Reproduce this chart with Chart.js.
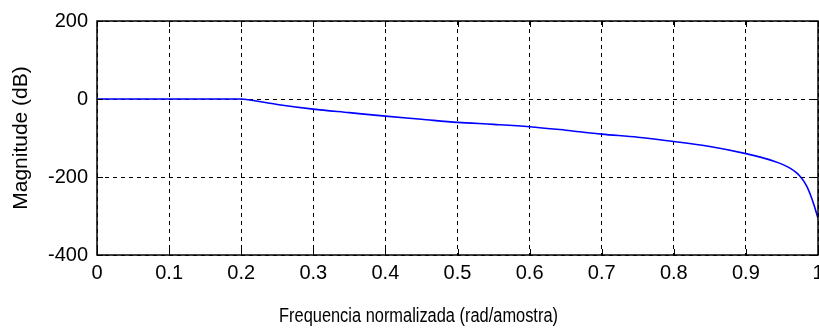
<!DOCTYPE html>
<html lang="pt">
<head>
<meta charset="UTF-8">
<title>Magnitude</title>
<script src="https://cdn.jsdelivr.net/npm/chart.js"></script>
<style>
    html, body { margin: 0; padding: 0; background: #fff; overflow: hidden; }
    #wrap { width: 819px; height: 329px; }
</style>
</head>
<body>
<div id="wrap"><canvas id="chart"></canvas></div>
<script>
    // frequency (normalized) and magnitude in dB
    const freq = [0, 0.05, 0.1, 0.15, 0.2, 0.21, 0.25, 0.3, 0.35, 0.4, 0.45, 0.5, 0.55, 0.6, 0.65,
        0.7, 0.75, 0.8, 0.85, 0.9, 0.92, 0.94, 0.95, 0.96, 0.97, 0.975, 0.98, 0.985, 0.99, 0.995, 1.0];
    const magDb = [0, 0, 0, 0, 0, -2, -14, -26, -35, -44, -52, -60, -65, -71, -80,
        -90, -98, -109, -122, -140, -149, -160, -167, -176, -189, -198, -210, -226, -248, -275, -306];
    const xTicks = [0, 0.1, 0.2, 0.3, 0.4, 0.5, 0.6, 0.7, 0.8, 0.9, 1];
    const yTicks = [-400, -200, 0, 200];
    const xTitle = 'Frequencia normalizada (rad/amostra)';

    const FONT = "'Liberation Sans', Arial, sans-serif";

    // box around the plot, small inward tick marks, and the narrow x title
    const boxPlugin = {
        id: 'box',
        afterDatasetsDraw(chart) {
            const { ctx, chartArea: a, scales } = chart;
            ctx.save();
            ctx.strokeStyle = '#000';
            ctx.lineWidth = 1.5;
            ctx.setLineDash([]);
            ctx.strokeRect(a.left, a.top, a.right - a.left, a.bottom - a.top);
            ctx.lineWidth = 1;
            ctx.beginPath();
            xTicks.forEach(v => {
                const px = Math.round(scales.x.getPixelForValue(v)) + 0.5;
                ctx.moveTo(px, a.bottom); ctx.lineTo(px, a.bottom - 6);
                ctx.moveTo(px, a.top); ctx.lineTo(px, a.top + 6);
            });
            yTicks.forEach(v => {
                const py = Math.round(scales.y.getPixelForValue(v)) + 0.5;
                ctx.moveTo(a.left, py); ctx.lineTo(a.left + 6, py);
                ctx.moveTo(a.right, py); ctx.lineTo(a.right - 6, py);
            });
            ctx.stroke();

            // x axis title, squeezed sideways like the old screenshot
            ctx.font = '20px ' + FONT;
            ctx.fillStyle = '#000';
            ctx.textAlign = 'center';
            ctx.textBaseline = 'alphabetic';
            ctx.translate(chart.width / 2 + 9, a.bottom + 67);
            ctx.scale(0.82, 1);
            ctx.fillText(xTitle, 0, 0);
            ctx.restore();
        }
    };

    new Chart(document.getElementById('chart'), {
        type: 'line',
        data: {
            datasets: [{
                data: freq.map((f, i) => ({ x: f, y: magDb[i] })),
                borderColor: '#0000ff',
                borderWidth: 1.6,
                pointRadius: 0,
                cubicInterpolationMode: 'monotone',
                fill: false
            }]
        },
        options: {
            responsive: true,
            maintainAspectRatio: false,
            animation: false,
            layout: { padding: { top: 21, left: 0, right: 1, bottom: 0 } },
            plugins: { legend: { display: false }, tooltip: { enabled: false } },
            scales: {
                x: {
                    type: 'linear',
                    min: 0,
                    max: 1,
                    afterBuildTicks: s => { s.ticks = xTicks.map(v => ({ value: v })); },
                    afterFit: s => { s.height = 74; s.paddingLeft = 0; s.paddingRight = 0; },
                    grid: { color: '#000', lineWidth: 1, drawTicks: false },
                    border: { dash: [4, 4], display: false },
                    ticks: {
                        color: '#000',
                        padding: 6,
                        maxRotation: 0,
                        font: { family: FONT, size: 20 },
                        callback: v => String(v)
                    }
                },
                y: {
                    min: -400,
                    max: 200,
                    afterBuildTicks: s => { s.ticks = yTicks.map(v => ({ value: v })); },
                    afterFit: s => { s.width = 97; s.paddingTop = 0; s.paddingBottom = 0; },
                    grid: { color: '#000', lineWidth: 1, drawTicks: false },
                    border: { dash: [4, 4], display: false },
                    ticks: {
                        color: '#000',
                        padding: 9,
                        font: { family: FONT, size: 20 }
                    },
                    title: {
                        display: true,
                        text: 'Magnitude (dB)',
                        color: '#000',
                        font: { family: FONT, size: 21 },
                        padding: { top: 9, bottom: 0 }
                    }
                }
            }
        },
        plugins: [boxPlugin]
    });
</script>
</body>
</html>
